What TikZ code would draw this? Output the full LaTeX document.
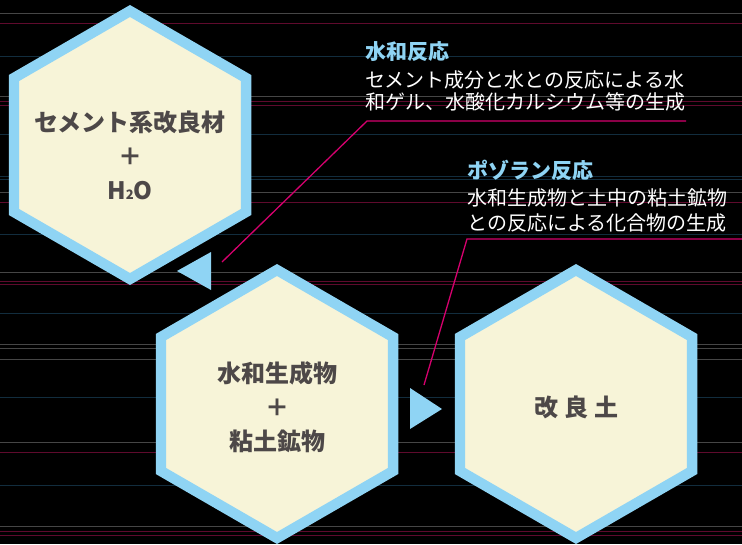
\documentclass[tikz,border=0pt]{standalone}
\usepackage{fontspec}
\setmainfont{Noto Sans CJK JP}
\usetikzlibrary{shapes.geometric}
\definecolor{hexedge}{RGB}{143,212,244}
\definecolor{hexfill}{RGB}{247,244,216}
\definecolor{hexink}{RGB}{77,72,72}
\definecolor{leadcol}{RGB}{214,0,110}
\definecolor{bggray}{RGB}{70,70,70}
\definecolor{bgred}{RGB}{95,10,45}
\definecolor{bgblue}{RGB}{18,45,62}

\begin{document}
\begin{tikzpicture}[x=1pt,y=-1pt]
	\tikzstyle{hexa}=[draw=hexedge,fill=hexfill,line width=10.4pt,regular polygon,regular polygon sides=6,regular polygon rotate=30,minimum size=268pt,inner sep=0pt]
	\tikzstyle{hexlbl}=[text=hexink,align=center,font=\bfseries\fontsize{24}{34}\selectfont]
	\tikzstyle{ttl}=[text=hexedge,anchor=base west,inner sep=0pt,font=\bfseries\fontsize{21}{22}\selectfont]
	\tikzstyle{txt}=[text=white,anchor=base west,inner sep=0pt,font=\fontsize{20}{22}\selectfont]
	\tikzstyle{leader}=[draw=leadcol,line width=1.3pt]
	\tikzstyle{tri}=[fill=hexedge]
	
	\useasboundingbox (0,0) rectangle (742,544);
	\fill[black] (0,0) rectangle (742,544);
	
	\foreach \y/\c in {13/bggray,23/bgred,56/bgblue,96/bggray,101/bgred,105/bgred,134/bgblue,176/bgblue,179/bgblue,192/bggray,202/bgred,234/bgblue,272/bggray,281/bgred,284/bgred,313/bgblue,344/bggray,348/bggray,359/bggray,397/bgblue,442/bggray,452/bgred,485/bgblue,526/bggray,531/bgred,535/bgred}
		\draw[\c,line width=1pt] (0,\y) -- (742,\y);
	
	\node[hexa](cement) at (130,145){};
	\node[hexa](hydr) at (277,404){};
	\node[hexa](soil) at (576,404){};
	
	\node[hexlbl](cementlbl) at (130,155){セメント系改良材\\＋\\H{\fontsize{13}{13}\selectfont 2}O};
	\node[hexlbl](hydrlbl) at (277,407){水和生成物\\＋\\粘土鉱物};
	\node[hexlbl](soillbl) at (576,407){改\hspace{6pt}良\hspace{6pt}土};
	
	\fill[tri] (177,271) -- (211,252) -- (211,290) -- cycle;
	\fill[tri] (442,409) -- (410,388) -- (410,429) -- cycle;
	
	\node[ttl](hydt) at (365,59.5){水和反応};
	\node[txt](hyda) at (365,87.5){セメント成分と水との反応による水};
	\node[txt](hydb) at (365,109.5){和ゲル、水酸化カルシウム等の生成};
	
	\node[ttl](pozt) at (467,178){ポゾラン反応};
	\node[txt](poza) at (467,205){水和生成物と土中の粘土鉱物};
	\node[txt](pozb) at (467,230){との反応による化合物の生成};
	
	\coordinate (hydfoot) at (222,262);
	\coordinate (pozfoot) at (424,385);
	\draw[leader] (hydfoot) -- (367,121) -- (686,121);
	\draw[leader] (pozfoot) -- (467,239) -- (742,239);
	
\end{tikzpicture}
\end{document}
